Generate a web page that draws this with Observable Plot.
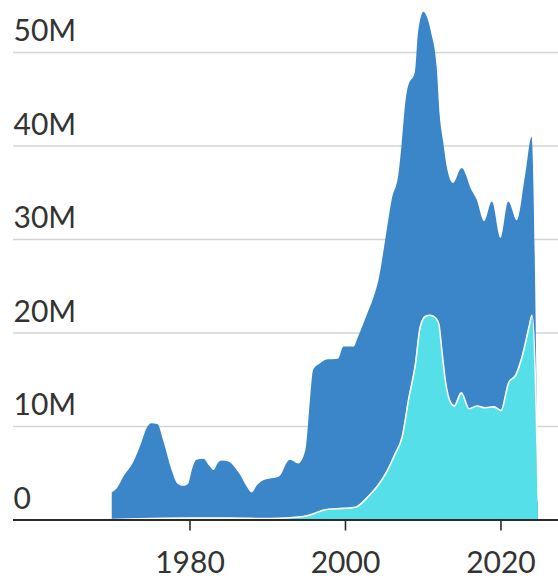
<!DOCTYPE html>
<html>
<head>
<meta charset="utf-8">
<script src="https://cdn.jsdelivr.net/npm/d3@7"></script>
<script src="https://cdn.jsdelivr.net/npm/@observablehq/plot@0.6"></script>
<style>
  html, body { margin: 0; padding: 0; background: #fff; }
  #chart { width: 558px; height: 578px; }
</style>
</head>
<body>
<div id="chart"></div>
<script>
// Total series (millions)
const totalYears = [1970.0, 1970.7, 1971.5, 1972.8, 1973.8, 1974.5, 1975.1, 1975.9, 1976.6, 1977.7, 1978.5, 1979.2, 1979.8, 1980.4, 1980.9, 1981.8, 1982.5, 1983.1, 1983.6, 1984.1, 1985.0, 1985.8, 1986.5, 1987.3, 1988.0, 1988.7, 1989.5, 1990.5, 1991.5, 1992.9, 1994.0, 1994.9, 1995.5, 1995.9, 1996.8, 1997.6, 1999.1, 1999.8, 2001.1, 2001.7, 2002.8, 2003.6, 2004.3, 2005.3, 2006.0, 2006.9, 2007.3, 2007.8, 2008.1, 2009.0, 2009.4, 2010.1, 2010.6, 2011.1, 2011.8, 2012.2, 2012.6, 2013.1, 2013.9, 2015.0, 2016.3, 2016.9, 2017.9, 2018.9, 2020.0, 2021.0, 2022.1, 2023.2, 2024.0, 2024.8];
const totalValues = [2.9, 3.4, 4.6, 6.2, 8.2, 9.8, 10.3, 10.2, 8.5, 5.3, 3.8, 3.6, 3.8, 5.6, 6.4, 6.5, 5.8, 5.3, 6.0, 6.3, 6.2, 5.6, 4.8, 3.6, 2.9, 3.7, 4.2, 4.4, 4.6, 6.4, 6.0, 7.4, 12.8, 16.0, 16.7, 17.1, 17.2, 18.5, 18.5, 19.6, 21.9, 23.6, 25.6, 30.6, 34.2, 37.1, 40.3, 44.9, 46.3, 47.9, 52.1, 54.3, 53.6, 52.0, 48.4, 43.1, 40.6, 37.7, 36.0, 37.6, 35.2, 34.3, 31.9, 34.0, 30.1, 34.0, 32.0, 37.0, 40.9, 2.0];

// Subset series (millions)
const subsetYears = [1970.0, 1975.0, 1980.0, 1985.0, 1990.4, 1994.6, 1995.9, 1997.4, 1998.9, 2001.3, 2002.8, 2004.1, 2005.4, 2006.4, 2007.3, 2008.1, 2009.0, 2009.6, 2010.3, 2010.9, 2011.6, 2012.0, 2012.4, 2012.9, 2013.5, 2014.0, 2014.9, 2015.9, 2016.9, 2018.0, 2019.1, 2020.0, 2021.0, 2021.9, 2022.7, 2023.6, 2024.0, 2024.8];
const subsetValues = [0.05, 0.15, 0.2, 0.2, 0.15, 0.37, 0.66, 1.1, 1.2, 1.37, 2.4, 3.6, 5.3, 7.1, 8.9, 12.8, 16.7, 20.6, 21.8, 21.9, 21.6, 21.0, 18.1, 14.6, 12.6, 12.2, 13.6, 11.9, 12.2, 12.0, 12.1, 11.7, 14.7, 15.5, 17.4, 20.6, 21.9, 2.0];

// Axis ticks
const yTicks = [0, 10, 20, 30, 40, 50];
const yTickLabels = ["0", "10M", "20M", "30M", "40M", "50M"];
const xTicks = [1980, 2000, 2020];
const xTickLabels = ["1980", "2000", "2020"];

const totalData = totalYears.map((year, i) => ({year, value: totalValues[i]}));
const subsetData = subsetYears.map((year, i) => ({year, value: subsetValues[i]}));
const yLabelData = yTicks.map((v, i) => ({v, label: yTickLabels[i]}));

const curve = "monotone-x";
const chart = Plot.plot({
  width: 558,
  height: 578,
  marginLeft: 13,
  marginRight: 0,
  marginTop: 5.25,
  marginBottom: 58.5,
  x: {domain: [1957.3, 2027.4], axis: null},
  y: {domain: [0, 55], axis: null},
  style: {fontFamily: "Lato, 'Open Sans', sans-serif", fontSize: "30px", color: "#333", background: "#fff"},
  marks: [
    Plot.ruleY(yTicks.filter(d => d > 0), {stroke: "#d4d4d4", strokeWidth: 1.6}),
    Plot.areaY(totalData, {x: "year", y: "value", fill: "#3b86c8", curve}),
    Plot.areaY(subsetData, {x: "year", y: "value", fill: "#55dfe8", curve}),
    Plot.lineY(subsetData, {x: "year", y: "value", stroke: "#fff", strokeWidth: 1.6, curve}),
    Plot.ruleY([0], {stroke: "#2b2b2b", strokeWidth: 2}),
    Plot.axisX({ticks: xTicks, tickFormat: (d) => xTickLabels[xTicks.indexOf(d)], label: null, tickSize: 11, tickPadding: 21, strokeWidth: 1.6, stroke: "#2b2b2b", fill: "#333", fontSize: 30}),
    Plot.text(yLabelData, {y: "v", text: "label", frameAnchor: "left", textAnchor: "start", lineAnchor: "middle", dy: -21, fontSize: 30, fill: "#333"})
  ]
});
document.getElementById("chart").appendChild(chart);
</script>
</body>
</html>
